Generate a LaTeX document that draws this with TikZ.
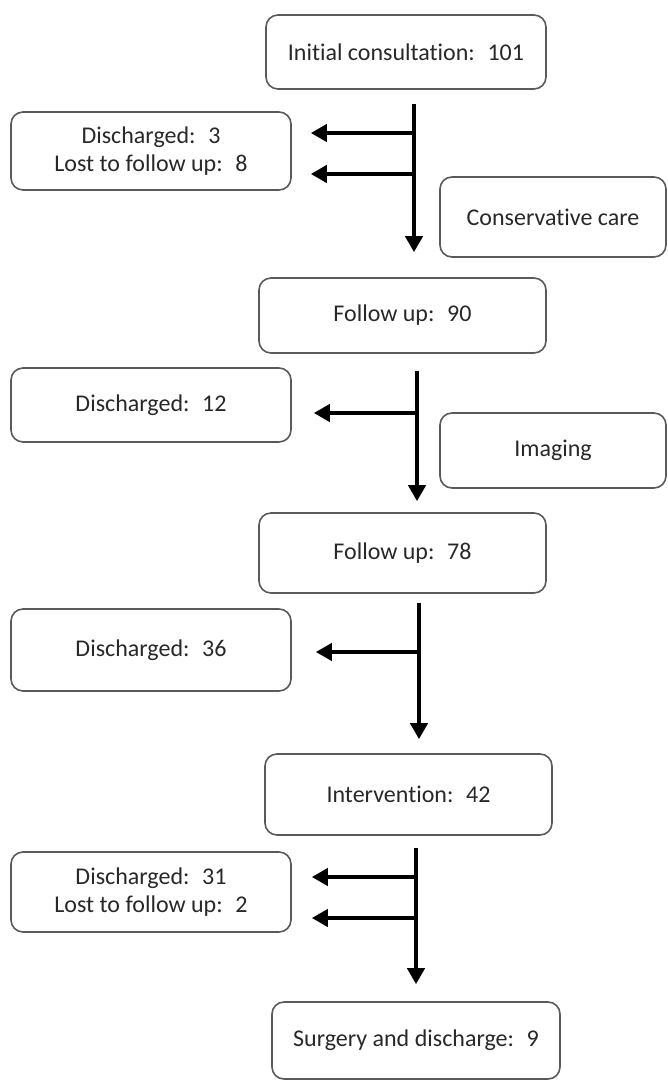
\documentclass[tikz,border=0pt]{standalone}
\usepackage{fontspec}
\setmainfont{Carlito}[Ligatures=NoCommon]
\usepackage{tikz}
\usetikzlibrary{arrows.meta}
\usetikzlibrary{calc}

\definecolor{boxline}{RGB}{90,90,90}
\definecolor{boxtext}{RGB}{40,40,40}

\tikzset{
  stagebox/.style={draw=boxline, line width=1.2pt, rounded corners=9pt, align=center,
    text=boxtext, inner sep=0pt, font=\fontsize{18}{21.5}\selectfont},
  trunk/.style={line width=3pt, -{Triangle[length=12pt,width=12.75pt]}},
  branch/.style={line width=3pt, -{Triangle[length=12pt,width=12.75pt]}}
}

\begin{document}
\begin{tikzpicture}[x=0.75pt,y=0.75pt,yscale=-1,xscale=1]
\useasboundingbox (0,0) rectangle (667,1080);

%Shape: Rounded boxes, main column
\node [stagebox, minimum width=210pt, minimum height=55.5pt] (init) at (406,52) {Initial consultation: \ 101};
\node [stagebox, minimum width=215.25pt, minimum height=56.25pt] (fu90) at (402.5,315.5) {Follow up: \ 90};
\node [stagebox, minimum width=215.25pt, minimum height=60pt] (fu78) at (402.5,553) {Follow up: \ 78};
\node [stagebox, minimum width=215.25pt, minimum height=60.75pt] (interv) at (408.5,794.5) {Intervention: \ 42};
\node [stagebox, minimum width=216pt, minimum height=57.75pt] (surg) at (416,1040.5) {Surgery and discharge: \ 9};

%Shape: Rounded boxes, left column
\node [stagebox, minimum width=210pt, minimum height=58.5pt] (dis1) at (151,151) {Discharged: \ 3\\Lost to follow up: \ 8};
\node [stagebox, minimum width=210pt, minimum height=55.5pt] (dis12) at (151,405) {Discharged: \ 12};
\node [stagebox, minimum width=210pt, minimum height=61.5pt] (dis36) at (151,650) {Discharged: \ 36};
\node [stagebox, minimum width=210pt, minimum height=60pt] (dis31) at (151,892) {Discharged: \ 31\\Lost to follow up: \ 2};

%Shape: Rounded boxes, right column
\node [stagebox, minimum width=169.5pt, minimum height=60pt] (cons) at (553,217) {Conservative care};
\node [stagebox, minimum width=169.5pt, minimum height=56.25pt] (img) at (553,450.5) {Imaging};

% Trunk and branch points
\coordinate (t1) at (414,0);
\coordinate (t2) at (417,0);
\coordinate (t3) at (419,0);
\coordinate (t4) at (416,0);
\coordinate (b1a) at (414,133);
\coordinate (b1b) at (414,174);
\coordinate (b2) at (417,413);
\coordinate (b3) at (419,652);
\coordinate (b4a) at (416,877);
\coordinate (b4b) at (416,918);

%Straight Lines, down the main column
\draw [trunk, shorten <=10.5pt, shorten >=18.75pt] (init.south -| t1) -- (fu90.north -| t1);
\draw [trunk, shorten <=12.75pt, shorten >=8.25pt] (fu90.south -| t2) -- (fu78.north -| t2);
\draw [trunk, shorten <=6.75pt, shorten >=10.5pt] (fu78.south -| t3) -- (interv.north -| t3);
\draw [trunk, shorten <=9pt, shorten >=12.75pt] (interv.south -| t4) -- (surg.north -| t4);

%Straight Lines, out to the left
\draw [branch, shorten >=14.25pt] (b1a) -- (dis1.east |- b1a);
\draw [branch, shorten >=14.25pt] (b1b) -- (dis1.east |- b1b);
\draw [branch, shorten >=16.5pt] (b2) -- (dis12.east |- b2);
\draw [branch, shorten >=18pt] (b3) -- (dis36.east |- b3);
\draw [branch, shorten >=15pt] (b4a) -- (dis31.east |- b4a);
\draw [branch, shorten >=15pt] (b4b) -- (dis31.east |- b4b);

\end{tikzpicture}
\end{document}
